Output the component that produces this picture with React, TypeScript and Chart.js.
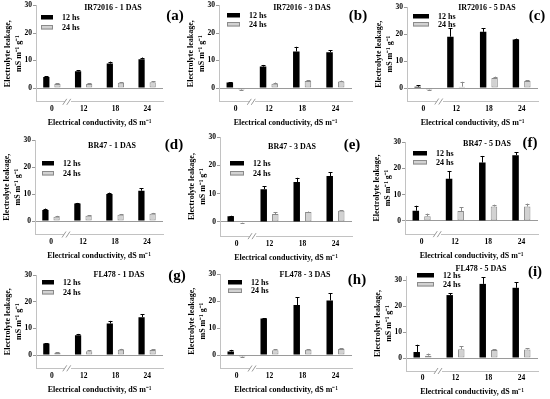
import React, { useEffect, useRef } from 'react';
import { Chart, registerables } from 'chart.js';

Chart.register(...registerables);

// ---------- DATA ----------
const categories = ['0', '12', '18', '24'];
const seriesNames = ['12 hs', '24 hs'];
const yTicks = [0, 10, 20, 30];
const yTitle = ['Electrolyte leakage,', 'mS m\u207B\u00B9 g\u207B\u00B9'];
const xTitle = 'Electrical conductivity, dS m\u207B\u00B9';
const panelTitles = [
  'IR72016 - 1 DAS', 'IR72016 - 3 DAS', 'IR72016 - 5 DAS',
  'BR47 - 1 DAS', 'BR47 - 3 DAS', 'BR47 - 5 DAS',
  'FL478 - 1 DAS', 'FL478 - 3 DAS', 'FL478 - 5 DAS',
];
const panelLetters = ['(a)', '(b)', '(c)', '(d)', '(e)', '(f)', '(g)', '(h)', '(i)'];

const ir1_12 = [4.0, 6.1, 8.9, 10.5];
const ir1_12err = [0.3, 0.3, 0.7, 0.6];
const ir1_24 = [1.5, 1.5, 1.9, 2.1];
const ir1_24err = [0.2, 0.2, 0.2, 0.3];

const ir3_12 = [2.0, 7.8, 13.3, 13.0];
const ir3_12err = [0.2, 0.6, 1.7, 0.8];
const ir3_24 = [-0.5, 1.6, 2.6, 2.4];
const ir3_24err = [0.2, 0.4, 0.3, 0.3];

const ir5_12 = [0.5, 19.0, 20.8, 18.0];
const ir5_12err = [0.6, 3.2, 1.3, 0.3];
const ir5_24 = [-0.6, 0.5, 3.7, 2.6];
const ir5_24err = [0.2, 1.8, 0.5, 0.3];

const br1_12 = [4.1, 6.5, 10.0, 11.2];
const br1_12err = [0.5, 0.2, 0.5, 1.0];
const br1_24 = [1.6, 1.9, 2.3, 2.7];
const br1_24err = [0.3, 0.3, 0.3, 0.3];

const br3_12 = [2.0, 11.6, 14.1, 16.2];
const br3_12err = [0.2, 1.0, 1.5, 1.4];
const br3_24 = [-0.2, 2.8, 3.5, 4.0];
const br3_24err = [0.1, 0.6, 0.2, 0.2];

const br5_12 = [3.9, 16.0, 22.2, 25.0];
const br5_12err = [1.9, 3.0, 2.5, 1.2];
const br5_24 = [1.8, 3.8, 5.5, 5.5];
const br5_24err = [1.0, 1.4, 0.7, 1.1];

const fl1_12 = [4.3, 7.4, 11.8, 14.2];
const fl1_12err = [0.2, 0.5, 1.0, 1.0];
const fl1_24 = [0.8, 1.4, 2.0, 1.9];
const fl1_24err = [0.3, 0.3, 0.3, 0.3];

const fl3_12 = [1.3, 13.5, 18.5, 20.2];
const fl3_12err = [0.6, 0.2, 2.9, 2.6];
const fl3_24 = [-0.6, 1.8, 1.9, 2.2];
const fl3_24err = [0.2, 0.4, 0.3, 0.3];

const fl5_12 = [2.3, 24.2, 28.5, 27.0];
const fl5_12err = [2.8, 0.7, 2.6, 2.1];
const fl5_24 = [0.9, 3.4, 3.1, 3.3];
const fl5_24err = [0.8, 1.2, 0.3, 0.5];

const panelSeries = [
  [ir1_12, ir1_12err, ir1_24, ir1_24err],
  [ir3_12, ir3_12err, ir3_24, ir3_24err],
  [ir5_12, ir5_12err, ir5_24, ir5_24err],
  [br1_12, br1_12err, br1_24, br1_24err],
  [br3_12, br3_12err, br3_24, br3_24err],
  [br5_12, br5_12err, br5_24, br5_24err],
  [fl1_12, fl1_12err, fl1_24, fl1_24err],
  [fl3_12, fl3_12err, fl3_24, fl3_24err],
  [fl5_12, fl5_12err, fl5_24, fl5_24err],
];

// ---------- LAYOUT (page coordinates) ----------
const W = 550;
const H = 399;
const Y_AXIS_W = 36;
const X_AXIS_H = 28;
const SERIF = "'Liberation Serif', 'Times New Roman', serif";

type Geom = {
  L: number; R: number; y30: number; y0: number; max: number;
  title: [number, number]; letter: [number, number];
  legend: [number, number]; legGap: number; legW: number;
};

const GEOMS: Geom[] = [
  { L: 36, R: 163, y30: 5, y0: 88, max: 30, title: [113, 8], letter: [175, 16], legend: [41, 17], legGap: 10, legW: 12 },
  { L: 219, R: 352, y30: 5, y0: 88, max: 30, title: [302, 8], letter: [358, 16], legend: [227, 15], legGap: 9, legW: 13 },
  { L: 407, R: 538, y30: 7, y0: 88, max: 30, title: [487, 8], letter: [537, 16], legend: [413, 16], legGap: 8, legW: 16 },
  { L: 35, R: 163, y30: 140, y0: 221, max: 30, title: [112, 146], letter: [174, 145], legend: [42, 163], legGap: 10, legW: 12 },
  { L: 220, R: 352, y30: 137, y0: 222, max: 30, title: [292, 147], letter: [352, 145], legend: [230, 163], legGap: 10, legW: 14 },
  { L: 405, R: 538, y30: 142, y0: 221, max: 30, title: [487, 144], letter: [530, 143], legend: [413, 153], legGap: 9, legW: 14 },
  { L: 36, R: 163, y30: 275, y0: 355, max: 30, title: [119, 275], letter: [177, 276], legend: [42, 282], legGap: 10, legW: 12 },
  { L: 220, R: 352, y30: 274, y0: 355, max: 30, title: [305, 275], letter: [357, 280], legend: [228, 282], legGap: 8.5, legW: 14 },
  { L: 406, R: 538, y30: 280, y0: 358, max: 31.5, title: [481, 269], letter: [535, 272], legend: [417, 275], legGap: 9, legW: 17 },
];

const BLACK = '#000000';
const GRAY_FILL = '#d2d2d2';
const GRAY_EDGE = '#8a8a8a';
const AXIS_COLOR = '#c2c2c2';
const ZERO_COLOR = '#9a9a9a';

function makeConfig(idx: number): any {
  const g = GEOMS[idx];
  const [v12, e12, v24, e24] = panelSeries[idx];
  const ppu = (g.y0 - g.y30) / 30;
  const top = g.y30 - (g.max - 30) * ppu;
  const bottom = g.y0 + 5 * ppu;
  const errs = [e12, e24];

  const deco = {
    id: 'deco' + idx,
    afterDatasetsDraw(chart: any) {
      const ctx = chart.ctx;
      const ys = chart.scales.y;
      ctx.save();
      ctx.lineWidth = 1;
      chart.data.datasets.forEach((ds: any, di: number) => {
        const meta = chart.getDatasetMeta(di);
        ctx.strokeStyle = di === 0 ? BLACK : GRAY_EDGE;
        meta.data.forEach((el: any, j: number) => {
          const v = ds.data[j];
          const e = errs[di][j];
          if (!e) return;
          const end = v >= 0 ? v + e : v - e;
          const x = Math.round(el.x) + 0.5;
          const y1 = ys.getPixelForValue(v);
          const y2 = ys.getPixelForValue(end);
          ctx.beginPath();
          ctx.moveTo(x, y1);
          ctx.lineTo(x, y2);
          ctx.moveTo(x - 2, Math.round(y2) + 0.5);
          ctx.lineTo(x + 2, Math.round(y2) + 0.5);
          ctx.stroke();
        });
      });
      ctx.restore();
    },
    afterDraw(chart: any) {
      const ctx = chart.ctx;
      const xs = chart.scales.x;
      const area = chart.chartArea;
      ctx.save();
      // axis break
      const xb = (xs.getPixelForValue(0) + xs.getPixelForValue(1)) / 2;
      const yb = area.bottom;
      ctx.clearRect(xb - 3, yb - 2, 6, 4);
      ctx.strokeStyle = '#9a9a9a';
      ctx.lineWidth = 1;
      ctx.beginPath();
      ctx.moveTo(xb - 5, yb + 3);
      ctx.lineTo(xb - 1, yb - 3);
      ctx.moveTo(xb - 1, yb + 3);
      ctx.lineTo(xb + 3, yb - 3);
      ctx.stroke();
      // title
      ctx.fillStyle = BLACK;
      ctx.textAlign = 'center';
      ctx.textBaseline = 'middle';
      ctx.font = `bold 8px ${SERIF}`;
      ctx.fillText(panelTitles[idx], g.title[0], g.title[1]);
      // letter
      ctx.font = `bold 15px ${SERIF}`;
      ctx.fillText(panelLetters[idx], g.letter[0], g.letter[1]);
      // legend
      ctx.textAlign = 'left';
      ctx.font = `bold 8px ${SERIF}`;
      const [lx, ly] = g.legend;
      ctx.fillStyle = BLACK;
      ctx.fillRect(lx, ly - 2, g.legW, 4.5);
      ctx.fillText(seriesNames[0], lx + g.legW + 9, ly + 0.5);
      const ly2 = ly + g.legGap;
      ctx.fillStyle = GRAY_FILL;
      ctx.fillRect(lx, ly2 - 2, g.legW, 4.5);
      ctx.strokeStyle = GRAY_EDGE;
      ctx.strokeRect(lx + 0.5, ly2 - 2 + 0.5, g.legW - 1, 3.5);
      ctx.fillStyle = BLACK;
      ctx.fillText(seriesNames[1], lx + g.legW + 9, ly2 + 0.5);
      ctx.restore();
    },
  };

  const tickFont = { family: SERIF, weight: 'bold', size: 7.5 };
  const titleFont = { family: SERIF, weight: 'bold', size: 8, lineHeight: 1.4 };

  return {
    type: 'bar',
    data: {
      labels: categories,
      datasets: [
        {
          label: seriesNames[0], data: v12, backgroundColor: BLACK, borderWidth: 0,
          categoryPercentage: 0.7, barPercentage: 0.56,
        },
        {
          label: seriesNames[1], data: v24, backgroundColor: GRAY_FILL, borderColor: GRAY_EDGE,
          borderWidth: 1, borderSkipped: false, categoryPercentage: 0.7, barPercentage: 0.56,
        },
      ],
    },
    options: {
      animation: false,
      responsive: false,
      maintainAspectRatio: false,
      events: [],
      layout: {
        padding: {
          left: g.L - Y_AXIS_W,
          right: W - g.R,
          top: top,
          bottom: H - bottom - X_AXIS_H,
        },
      },
      plugins: {
        legend: { display: false },
        title: { display: false },
        tooltip: { enabled: false },
      },
      scales: {
        x: {
          type: 'category',
          offset: true,
          grid: { display: false, drawTicks: false },
          border: { display: true, color: AXIS_COLOR },
          ticks: { font: tickFont, color: BLACK, padding: 3, maxRotation: 0, autoSkip: false },
          title: { display: true, text: xTitle, font: titleFont, color: BLACK, padding: { top: 0, bottom: 1 } },
          afterFit: (s: any) => { s.height = X_AXIS_H; },
        },
        y: {
          min: -5,
          max: g.max,
          afterBuildTicks: (s: any) => { s.ticks = yTicks.map((v) => ({ value: v })); },
          afterFit: (s: any) => { s.width = Y_AXIS_W; },
          grid: {
            color: (c: any) => (c.tick && c.tick.value === 0 ? ZERO_COLOR : 'rgba(0,0,0,0)'),
            tickColor: ZERO_COLOR,
            tickLength: 3,
            lineWidth: 1,
          },
          border: { display: true, color: AXIS_COLOR },
          ticks: { font: tickFont, color: BLACK, padding: 1 },
          title: { display: true, text: yTitle, font: titleFont, color: BLACK, padding: { top: 2, bottom: 0 } },
        },
      },
    },
    plugins: [deco],
  };
}

function Panel({ idx }: { idx: number }) {
  const ref = useRef<HTMLCanvasElement | null>(null);
  useEffect(() => {
    if (!ref.current) return;
    const chart = new Chart(ref.current, makeConfig(idx));
    return () => chart.destroy();
  }, [idx]);
  return (
    <canvas
      ref={ref}
      width={W}
      height={H}
      style={{ position: 'absolute', left: 0, top: 0, width: W, height: H }}
    />
  );
}

export default function App() {
  return (
    <div style={{ position: 'absolute', left: 0, top: 0, width: W, height: H, background: '#fff', overflow: 'hidden' }}>
      {GEOMS.map((_, i) => (
        <Panel key={i} idx={i} />
      ))}
    </div>
  );
}
